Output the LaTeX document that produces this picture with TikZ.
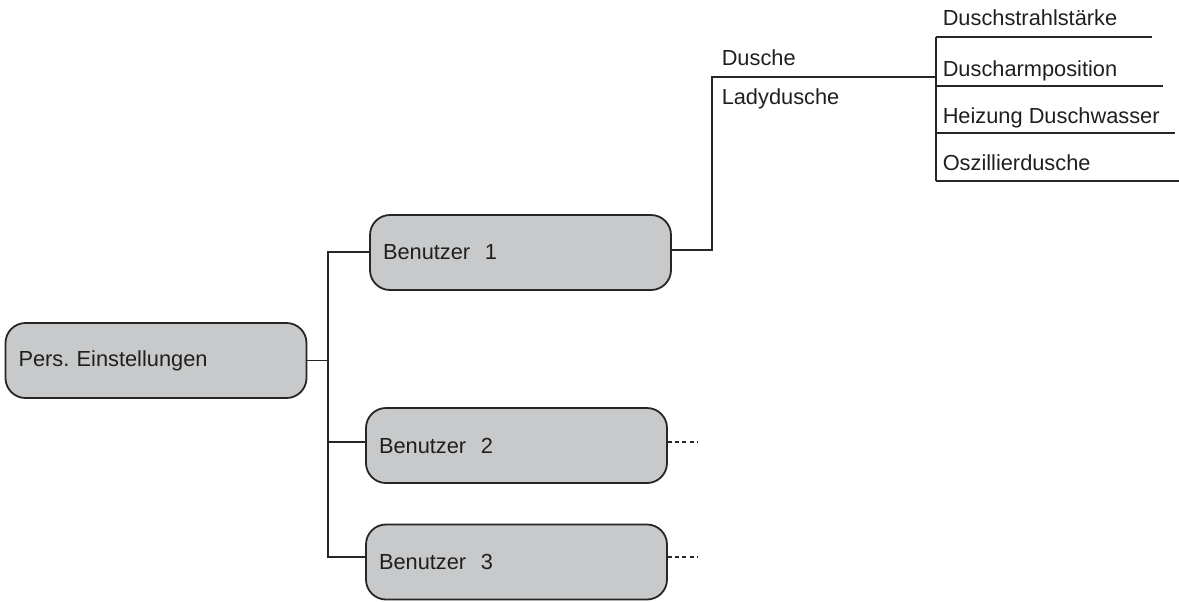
\documentclass[tikz,border=0pt]{standalone}
\usepackage{fontspec}
\setmainfont{Liberation Sans}
\frenchspacing
\begin{document}
\begin{tikzpicture}[x=0.5pt,y=-0.5pt,
  line width=0.75pt, draw=black!85,
  menubox/.style={draw=black!85, line width=0.9pt, fill=boxgray, rounded corners=10pt,
    minimum width=150.5pt, minimum height=37.5pt, inner xsep=6.5pt, text width=137.5pt,
    align=left, font=\fontsize{10.9}{13}\selectfont, text=black!88},
  itemtext/.style={anchor=base west, inner sep=0pt, font=\fontsize{10.9}{13}\selectfont, text=black!88},
  conn/.style={draw=black!85, line width=0.75pt}]
\definecolor{boxgray}{HTML}{C8C9CA}
\useasboundingbox (0,0) rectangle (1179,601);

% boxes
\node[menubox] (pers) at (156,360.5) {Pers.\ Einstellungen};
\node[menubox] (b1) at (520.5,252.5) {Benutzer\ \ 1};
\node[menubox] (b2) at (516.5,445.5) {Benutzer\ \ 2};
\node[menubox] (b3) at (516.5,562) {Benutzer\ \ 3};

% bus
\coordinate (jtop) at (328,252);
\coordinate (jb2) at (328,442);
\coordinate (jbot) at (328,557);
\draw[conn] (pers.east) -- (pers.east -| jtop);
\draw[conn] (b1.west |- jtop) -- (jtop) -- (jbot) -- (jbot -| b3.west);
\draw[conn] (jb2) -- (jb2 -| b2.west);

% dotted continuations
\coordinate (d2) at (697,442);
\coordinate (d3) at (697,557);
\draw[conn, dash pattern=on 2pt off 1.6pt, line width=0.6pt] (b2.east |- d2) -- (d2);
\draw[conn, dash pattern=on 2pt off 1.6pt, line width=0.6pt] (b3.east |- d3) -- (d3);

% level 2
\coordinate (k1) at (712,250);
\coordinate (k2) at (712,77);
\coordinate (sbus) at (936,77);
\draw[conn] (b1.east |- k1) -- (k1) -- (k2) -- (sbus);
\node[itemtext] (dusche) at (721,65) {Dusche};
\node[itemtext] (lady) at (721,104) {Ladydusche};

% level 3
\coordinate (s0) at (936,37);
\coordinate (s1) at (936,86);
\coordinate (s2) at (936,133);
\coordinate (s3) at (936,181);
\draw[conn] (s0) -- (s3);
\draw[conn] (s0) -- (1152,37);
\draw[conn] (s1) -- (1163,86);
\draw[conn] (s2) -- (1175,133);
\draw[conn] (s3) -- (1179,181);
\node[itemtext] (t0) at (942,25) {Duschstrahlstärke};
\node[itemtext] (t1) at (942,76) {Duscharmposition};
\node[itemtext] (t2) at (942,123) {Heizung Duschwasser};
\node[itemtext] (t3) at (942,170) {Oszillierdusche};
\end{tikzpicture}
\end{document}
